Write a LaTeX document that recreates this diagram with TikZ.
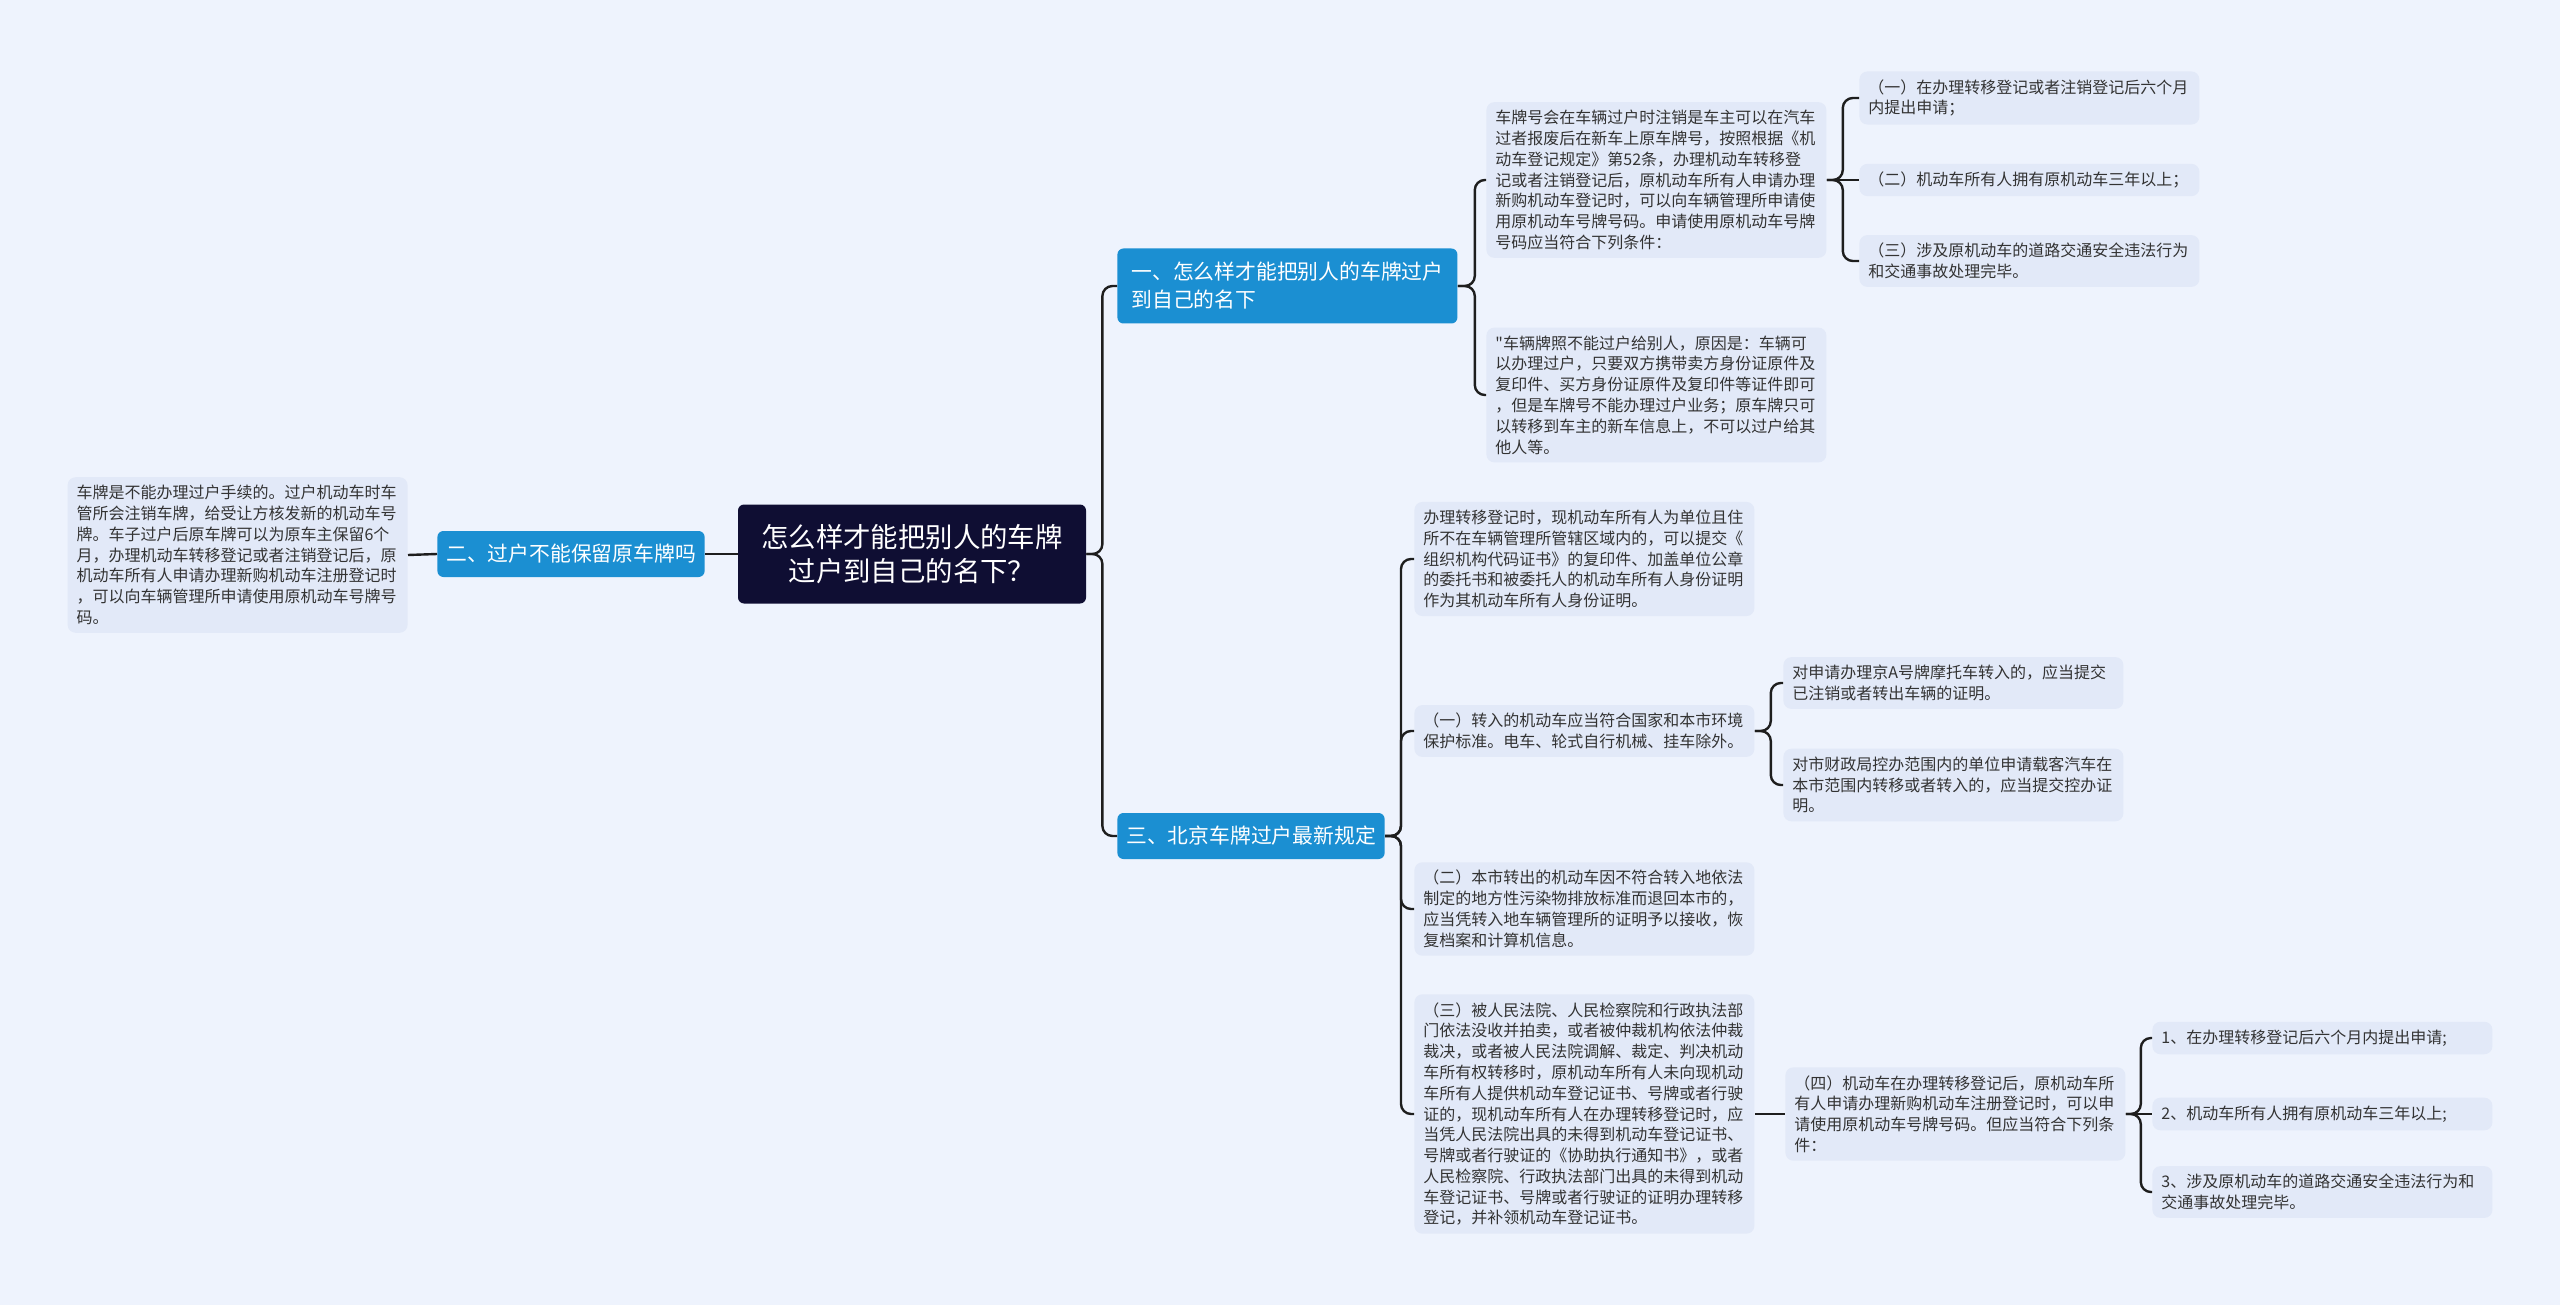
\documentclass[tikz,border=0pt]{standalone}
\usepackage{fontspec}
\setmainfont{Noto Sans CJK SC}[Ligatures=TeXOff]
\usetikzlibrary{positioning}

\definecolor{bgblue}{HTML}{EEF3FD}
\definecolor{leafgray}{HTML}{E2E9F8}
\definecolor{topicblue}{HTML}{1B8FD2}
\definecolor{rootnavy}{HTML}{0F0E33}
\definecolor{linkdark}{HTML}{1E1E1E}
\definecolor{leaftext}{HTML}{333333}

\begin{document}
\begin{tikzpicture}[x=0.5pt, y=-0.5pt,
        rootbox/.style={rectangle, fill=rootnavy, rounded corners=3pt, text=white, align=center, minimum width=174pt, minimum height=49.5pt, font=\fontsize{13.7}{17}\selectfont},
        topic/.style={rectangle, fill=topicblue, rounded corners=3pt, text=white, font=\fontsize{10.4}{14}\selectfont, inner xsep=4.4pt, minimum height=23pt},
        leaf/.style={rectangle, fill=leafgray, rounded corners=4pt, text=leaftext, text width=161pt, align=left, inner xsep=4.5pt, inner ysep=4pt, font=\fontsize{8}{10.4}\selectfont},
        link/.style={draw=linkdark, line width=1.2pt, rounded corners=5pt},
    ]
        \useasboundingbox (0,0) rectangle (2560,1305);
        \fill[bgblue] (0,0) rectangle (2560,1305);

        % ====== 中心主题 ======
        \node[rootbox] (root) at (912,554) {怎么样才能把别人的车牌\\过户到自己的名下？};

        % ====== 左侧：二 ======
        \node[topic, anchor=east] (t2) at (705,554) {二、过户不能保留原车牌吗};
        \node[leaf, anchor=east] (l2) at (408,555) {车牌是不能办理过户手续的。过户机动车时车\\管所会注销车牌，给受让方核发新的机动车号\\牌。车子过户后原车牌可以为原车主保留6个\\月，办理机动车转移登记或者注销登记后，原\\机动车所有人申请办理新购机动车注册登记时\\，可以向车辆管理所申请使用原机动车号牌号\\码。};

        % ====== 右上：一 ======
        \node[topic, anchor=west, align=left, text width=156pt, inner xsep=7pt, minimum height=37.5pt] (t1) at (1117,286) {一、怎么样才能把别人的车牌过户\\到自己的名下};
        \node[leaf, anchor=west] (l1a) at (1486,180) {车牌号会在车辆过户时注销是车主可以在汽车\\过者报废后在新车上原车牌号，按照根据《机\\动车登记规定》第52条，办理机动车转移登\\记或者注销登记后，原机动车所有人申请办理\\新购机动车登记时，可以向车辆管理所申请使\\用原机动车号牌号码。申请使用原机动车号牌\\号码应当符合下列条件：};
        \node[leaf, anchor=west] (l1b) at (1486,395) {"车辆牌照不能过户给别人，原因是：车辆可\\以办理过户，只要双方携带卖方身份证原件及\\复印件、买方身份证原件及复印件等证件即可\\，但是车牌号不能办理过户业务；原车牌只可\\以转移到车主的新车信息上，不可以过户给其\\他人等。};

        % 条件（一）～（三）
        \node[leaf, anchor=west] (c1) at (1859,98)  {（一）在办理转移登记或者注销登记后六个月\\内提出申请；};
        \node[leaf, anchor=west] (c2) at (1859,180) {（二）机动车所有人拥有原机动车三年以上；};
        \node[leaf, anchor=west] (c3) at (1859,261) {（三）涉及原机动车的道路交通安全违法行为\\和交通事故处理完毕。};

        % ====== 右下：三 ======
        \node[topic, anchor=west] (t3) at (1117,836) {三、北京车牌过户最新规定};
        \node[leaf, anchor=west] (l3a) at (1414,559) {办理转移登记时，现机动车所有人为单位且住\\所不在车辆管理所管辖区域内的，可以提交《\\组织机构代码证书》的复印件、加盖单位公章\\的委托书和被委托人的机动车所有人身份证明\\作为其机动车所有人身份证明。};
        \node[leaf, anchor=west] (l3b) at (1414,731) {（一）转入的机动车应当符合国家和本市环境\\保护标准。电车、轮式自行机械、挂车除外。};
        \node[leaf, anchor=west] (l3c) at (1414,909) {（二）本市转出的机动车因不符合转入地依法\\制定的地方性污染物排放标准而退回本市的，\\应当凭转入地车辆管理所的证明予以接收，恢\\复档案和计算机信息。};
        \node[leaf, anchor=west] (l3d) at (1414,1114) {（三）被人民法院、人民检察院和行政执法部\\门依法没收并拍卖，或者被仲裁机构依法仲裁\\裁决，或者被人民法院调解、裁定、判决机动\\车所有权转移时，原机动车所有人未向现机动\\车所有人提供机动车登记证书、号牌或者行驶\\证的，现机动车所有人在办理转移登记时，应\\当凭人民法院出具的未得到机动车登记证书、\\号牌或者行驶证的《协助执行通知书》，或者\\人民检察院、行政执法部门出具的未得到机动\\车登记证书、号牌或者行驶证的证明办理转移\\登记，并补领机动车登记证书。};

        % 转入证明
        \node[leaf, anchor=west] (p1) at (1783,683) {对申请办理京A号牌摩托车转入的，应当提交\\已注销或者转出车辆的证明。};
        \node[leaf, anchor=west] (p2) at (1783,785) {对市财政局控办范围内的单位申请载客汽车在\\本市范围内转移或者转入的，应当提交控办证\\明。};

        % （四）及其条件
        \node[leaf, anchor=west] (l3e) at (1785,1114) {（四）机动车在办理转移登记后，原机动车所\\有人申请办理新购机动车注册登记时，可以申\\请使用原机动车号牌号码。但应当符合下列条\\件：};
        \node[leaf, anchor=west] (q1) at (2152,1038) {1、在办理转移登记后六个月内提出申请;};
        \node[leaf, anchor=west] (q2) at (2152,1114) {2、机动车所有人拥有原机动车三年以上;};
        \node[leaf, anchor=west] (q3) at (2152,1192) {3、涉及原机动车的道路交通安全违法行为和\\交通事故处理完毕。};

        % ====== 连线 ======
        \draw[link] (root.west) -- (t2.east);
        \draw[link] (t2.west) -- (l2.east);
        \draw[link] (root.east) -- ++(16,0) |- (t1.west);
        \draw[link] (root.east) -- ++(16,0) |- (t3.west);

        \draw[link] (t1.east) -- ++(17,0) |- (l1a.west);
        \draw[link] (t1.east) -- ++(17,0) |- (l1b.west);
        \draw[link] (l1a.east) -- ++(16,0) |- (c1.west);
        \draw[link] (l1a.east) -- (c2.west);
        \draw[link] (l1a.east) -- ++(16,0) |- (c3.west);

        \draw[link] (t3.east) -- ++(16,0) |- (l3a.west);
        \draw[link] (t3.east) -- ++(16,0) |- (l3b.west);
        \draw[link] (t3.east) -- ++(16,0) |- (l3c.west);
        \draw[link] (t3.east) -- ++(16,0) |- (l3d.west);
        \draw[link] (l3b.east) -- ++(16,0) |- (p1.west);
        \draw[link] (l3b.east) -- ++(16,0) |- (p2.west);
        \draw[link] (l3d.east) -- (l3e.west);
        \draw[link] (l3e.east) -- ++(15,0) |- (q1.west);
        \draw[link] (l3e.east) -- (q2.west);
        \draw[link] (l3e.east) -- ++(15,0) |- (q3.west);
    \end{tikzpicture}
\end{document}
